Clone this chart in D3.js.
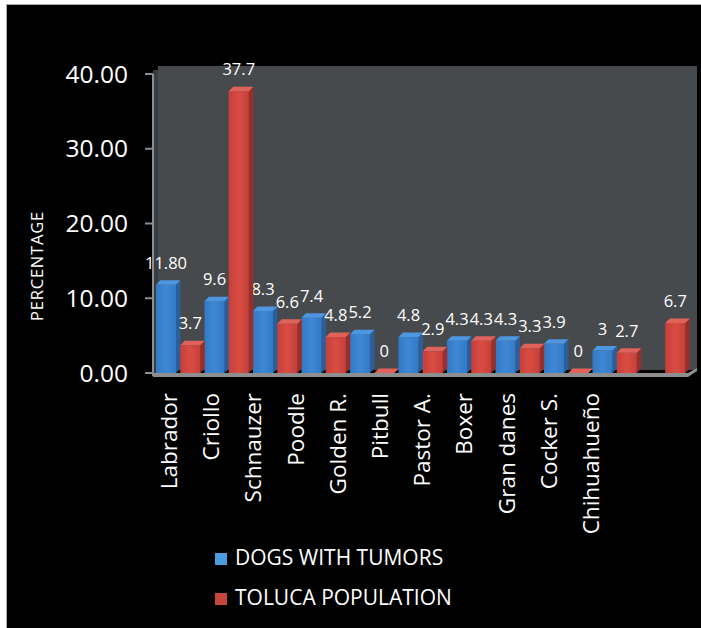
<!DOCTYPE html>
<html><head><meta charset="utf-8">
<script src="https://cdn.jsdelivr.net/npm/d3@7"></script>
<style>html,body{margin:0;padding:0;background:#fff;}svg{display:block;}</style>
</head><body>
<script>
const categories = ["Labrador","Criollo","Schnauzer","Poodle","Golden R.","Pitbull","Pastor A.","Boxer","Gran danes","Cocker S.","Chihuahueño"];
const tumorValues = [11.8, 9.6, 8.3, 7.4, 5.2, 4.8, 4.3, 4.3, 3.9, 3.0, null];
const tumorLabels = ["11.80","9.6","8.3","7.4","5.2","4.8","4.3","4.3","3.9","3",""];
const tolucaValues = [3.7, 37.7, 6.6, 4.8, 0, 2.9, 4.3, 3.3, 0, 2.7, 6.7];
const tolucaLabels = ["3.7","37.7","6.6","4.8","0","2.9","4.3","3.3","0","2.7","6.7"];
const yTicks = [0, 10, 20, 30, 40];
const seriesNames = ["DOGS WITH TUMORS","TOLUCA POPULATION"];

const W = 701, H = 628;
const svg = d3.select("body").append("svg").attr("width", W).attr("height", H);
const FONT = "'Open Sans', 'DejaVu Sans', sans-serif";

// frame
svg.append("rect").attr("x",0).attr("y",0).attr("width",W).attr("height",H).attr("fill","#fff");
svg.append("rect").attr("x",6).attr("y",4).attr("width",W-6).attr("height",H-4).attr("fill","#a9a9a9");
svg.append("rect").attr("x",7).attr("y",5).attr("width",W-7).attr("height",H-5).attr("fill","#000");

const y = d3.scaleLinear().domain([0, 40]).range([373, 74]);
const x = d3.scaleBand().domain(categories).range([156, 156 + 48.5*categories.length]).paddingInner(0).paddingOuter(0);
const xs = d3.scaleBand().domain(["t","p"]).range([0, x.bandwidth()]);
const xl = d3.scalePoint().domain(categories).range([169, 591]);

const D = 4.5; // depth offset
const FW = 20;  // front width

// walls
svg.append("rect").attr("x",153).attr("y",70).attr("width",6).attr("height",303).attr("fill","#3a3d40");
svg.append("rect").attr("x",158).attr("y",66).attr("width",697-158).attr("height",304).attr("fill","#474a4d");
// floor
svg.append("path").attr("d","M153,373 L688,373 L697,368 L697,371 L688,377 L153,377 Z").attr("fill","#8c8e90");

// y axis
svg.append("line").attr("x1",153).attr("x2",153).attr("y1",y(40)).attr("y2",y(0)+3).attr("stroke","#8c8e90").attr("stroke-width",2);
svg.selectAll(".tick").data(yTicks).enter().append("line")
  .attr("x1",145).attr("x2",153).attr("y1",d=>y(d)).attr("y2",d=>y(d)).attr("stroke","#8c8e90").attr("stroke-width",2);
svg.selectAll(".tl").data(yTicks).enter().append("text")
  .attr("x",128).attr("y",d=>y(d)+2).attr("text-anchor","end").attr("dominant-baseline","middle")
  .attr("font-family",FONT).attr("font-size",24.5).attr("fill","#fff")
  .text(d=>d3.format(".2f")(d));

svg.append("text").attr("transform","translate(43,266) rotate(-90)").attr("text-anchor","middle")
  .attr("font-family",FONT).attr("font-size",16.5).attr("letter-spacing",0.8).attr("fill","#fff").text("PERCENTAGE");

// defs gradients
const defs = svg.append("defs");
function grad(id, c1, c2, c3){
  const g = defs.append("linearGradient").attr("id",id).attr("x1","0").attr("x2","1").attr("y1","0").attr("y2","0");
  g.append("stop").attr("offset","0%").attr("stop-color",c1);
  g.append("stop").attr("offset","50%").attr("stop-color",c2);
  g.append("stop").attr("offset","100%").attr("stop-color",c3);
}
grad("gBlue","#3479c4","#3d88d6","#3479c4");
grad("gRed","#c8403a","#d84c42","#c8403a");

const colors = {
  t:{front:"url(#gBlue)", side:"#2a5f9c", top:"#4d96e0"},
  p:{front:"url(#gRed)", side:"#9a2e2a", top:"#e0625a"}
};

function drawSeries(key, values, labels){
  const c = colors[key];
  const g = svg.append("g");
  categories.forEach((cat,i)=>{
    const v = values[i];
    if (v === null) return;
    const x0 = x(cat) + xs(key);
    const yt = y(v), yb = y(0);
    const gg = g.append("g");
    gg.append("path").attr("d",`M${x0+FW},${yt} L${x0+FW+D},${yt-D} L${x0+FW+D},${yb-D} L${x0+FW},${yb} Z`).attr("fill",c.side);
    gg.append("rect").attr("x",x0).attr("y",yt).attr("width",FW).attr("height",Math.max(0,yb-yt)).attr("fill",c.front);
    gg.append("path").attr("d",`M${x0},${yt} L${x0+D},${yt-D} L${x0+FW+D},${yt-D} L${x0+FW},${yt} Z`).attr("fill",c.top);
    if (labels[i] !== "") {
      svg.append("text").attr("x",x0+FW/2).attr("y",yt-16).attr("text-anchor","middle")
        .attr("font-family",FONT).attr("font-size",16.5).attr("fill","#fff").text(labels[i]);
    }
  });
}
drawSeries("t", tumorValues, tumorLabels);
drawSeries("p", tolucaValues, tolucaLabels);

// category labels
svg.selectAll(".cl").data(categories).enter().append("text")
  .attr("transform",d=>`translate(${xl(d)+8},393) rotate(-90)`).attr("text-anchor","end")
  .attr("font-family",FONT).attr("font-size",22.5).attr("fill","#fff").text(d=>d);

// legend
const legColors = ["#4a9be0","#c8453c"];
const leg = svg.selectAll(".lg").data(seriesNames).enter().append("g")
  .attr("transform",(d,i)=>`translate(215,${553 + i*40})`);
leg.append("rect").attr("width",12).attr("height",12).attr("fill",(d,i)=>legColors[i]);
leg.append("text").attr("x",20).attr("y",6).attr("dominant-baseline","middle")
  .attr("font-family",FONT).attr("font-size",21).attr("fill","#fff").text(d=>d);
</script>
</body></html>
